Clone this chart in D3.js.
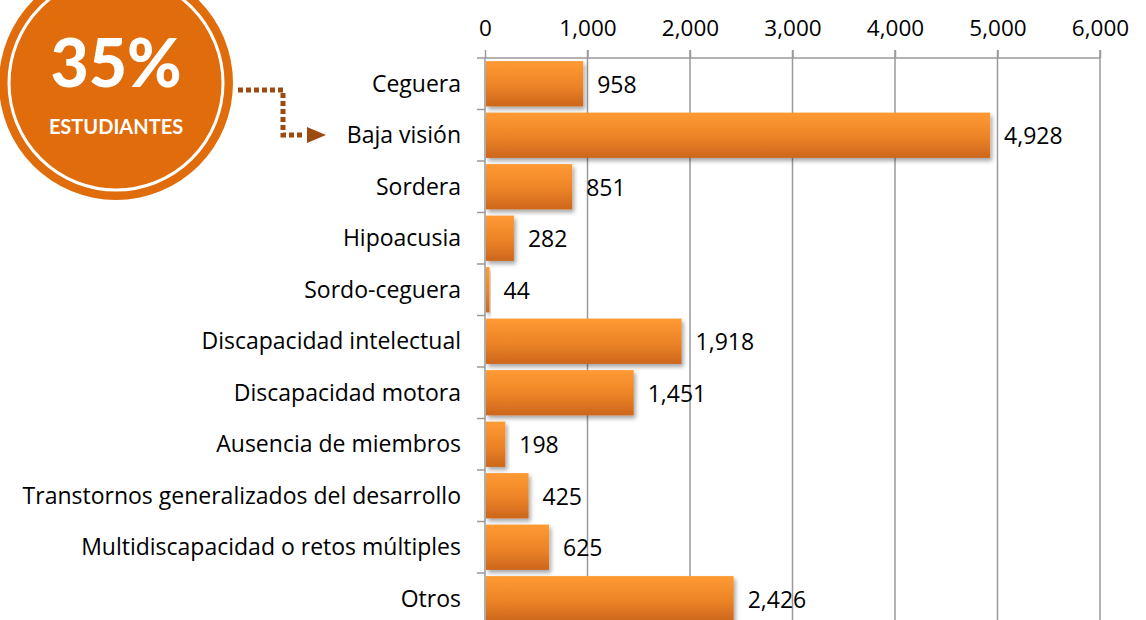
<!DOCTYPE html>
<html>
<head>
<meta charset="utf-8">
<script src="https://cdn.jsdelivr.net/npm/d3@7"></script>
<style>
  body { margin: 0; background: #fff; }
  text { font-family: "Open Sans", Lato, sans-serif; }
</style>
</head>
<body>
<div id="container"></div>
<script>
// data
var categories = ["Ceguera", "Baja visión", "Sordera", "Hipoacusia", "Sordo-ceguera",
  "Discapacidad intelectual", "Discapacidad motora", "Ausencia de miembros",
  "Transtornos generalizados del desarrollo", "Multidiscapacidad o retos múltiples", "Otros"];
var values = [958, 4928, 851, 282, 44, 1918, 1451, 198, 425, 625, 2426];
var xTicks = [0, 1000, 2000, 3000, 4000, 5000, 6000];
var badgeValue = "35%";
var badgeLabel = "ESTUDIANTES";

(function()
{
  var W = 1146, H = 620;
  var plotLeft = 485, plotRight = 1100, plotTop = 58;
  var step = 51.5;
  var fontSize = "23px";

  var svg = d3.select("#container").append("svg")
    .attr("width", W).attr("height", H);

  var defs = svg.append("defs");
  var grad = defs.append("linearGradient").attr("id", "barGrad")
    .attr("x1", 0).attr("y1", 0).attr("x2", 0).attr("y2", 1);
  grad.append("stop").attr("offset", "0%").attr("stop-color", "#ff9a33");
  grad.append("stop").attr("offset", "55%").attr("stop-color", "#ec8327");
  grad.append("stop").attr("offset", "100%").attr("stop-color", "#cc661c");
  var shadow = defs.append("filter").attr("id", "shadow")
    .attr("x", "-10%").attr("y", "-20%").attr("width", "130%").attr("height", "160%");
  shadow.append("feDropShadow").attr("dx", 2).attr("dy", 3)
    .attr("stdDeviation", 2).attr("flood-color", "#000").attr("flood-opacity", 0.35);

  var x = d3.scaleLinear().domain([0, 6000]).range([plotLeft, plotRight]);
  var y = d3.scaleBand().domain(categories)
    .range([plotTop, plotTop + step * categories.length])
    .paddingInner(0.12).paddingOuter(0.06);

  // gridlines
  svg.append("g").selectAll("line").data(xTicks.slice(1)).enter().append("line")
    .attr("x1", function(d){ return x(d); }).attr("x2", function(d){ return x(d); })
    .attr("y1", plotTop - 8).attr("y2", H)
    .style("stroke", "#9a9a9a").style("stroke-width", "1.5px");

  // top axis
  var xAxis = svg.append("g").attr("transform", "translate(0," + plotTop + ")")
    .call(d3.axisTop(x).tickValues(xTicks).tickSize(8).tickPadding(14)
      .tickFormat(d3.format(",")));
  xAxis.select(".domain").attr("d", "M" + (plotLeft - 8) + ",0H" + plotRight)
    .style("stroke", "#9a9a9a").style("stroke-width", "1.5px");
  xAxis.selectAll(".tick line").style("stroke", "#9a9a9a").style("stroke-width", "1.5px");
  xAxis.selectAll(".tick text").style("font-size", "22.5px").style("fill", "#000")
    .style("font-family", "'Open Sans', sans-serif");

  // left axis
  svg.append("line").attr("x1", plotLeft).attr("x2", plotLeft).attr("y1", plotTop).attr("y2", H)
    .style("stroke", "#9a9a9a").style("stroke-width", "1.5px");
  svg.append("g").selectAll("line").data(categories.slice(1)).enter().append("line")
    .attr("x1", plotLeft - 8).attr("x2", plotLeft)
    .attr("y1", function(d){ return y(d) - y.step() * y.paddingInner() / 2; })
    .attr("y2", function(d){ return y(d) - y.step() * y.paddingInner() / 2; })
    .style("stroke", "#9a9a9a").style("stroke-width", "1.5px");

  // bars
  svg.append("g").selectAll("rect").data(values).enter().append("rect")
    .attr("x", x(0) + 1)
    .attr("y", function(d, i){ return y(categories[i]); })
    .attr("width", function(d){ return x(d) - x(0) - 1; })
    .attr("height", y.bandwidth())
    .attr("fill", "url(#barGrad)")
    .attr("filter", "url(#shadow)");

  // value labels
  svg.append("g").selectAll("text").data(values).enter().append("text")
    .attr("x", function(d){ return x(d) + 14; })
    .attr("y", function(d, i){ return y(categories[i]) + y.bandwidth() / 2 + 9; })
    .style("font-size", fontSize).style("fill", "#000")
    .text(d3.format(","));

  // category labels
  svg.append("g").selectAll("text").data(categories).enter().append("text")
    .attr("x", plotLeft - 24)
    .attr("y", function(d){ return y(d) + y.bandwidth() / 2 + 8; })
    .attr("text-anchor", "end")
    .style("font-size", fontSize).style("fill", "#000")
    .text(function(d){ return d; });

  // badge
  var cx = 116, cy = 83;
  svg.append("circle").attr("cx", cx).attr("cy", cy).attr("r", 117).attr("fill", "#e06c0b");
  svg.append("circle").attr("cx", cx).attr("cy", cy).attr("r", 107)
    .attr("fill", "none").attr("stroke", "#fff").attr("stroke-width", 3);
  svg.append("text").attr("x", cx).attr("y", 87).attr("text-anchor", "middle")
    .style("font-size", "66px").style("font-weight", "900").style("fill", "#fff")
    .style("font-family", "Lato, sans-serif")
    .text(badgeValue);
  svg.append("text").attr("x", cx).attr("y", 134).attr("text-anchor", "middle")
    .style("font-size", "20px").style("font-weight", "bold").style("fill", "#fff")
    .style("font-family", "Lato, sans-serif")
    .text(badgeLabel);

  // dotted arrow
  svg.append("path")
    .attr("d", "M238,90H283V135H302")
    .attr("fill", "none").attr("stroke", "#9c4a10").attr("stroke-width", 5)
    .attr("stroke-dasharray", "5,3");
  svg.append("path")
    .attr("d", "M307,127L326,135L307,143Z")
    .attr("fill", "#9c4a10");
})();
</script>
</body>
</html>
